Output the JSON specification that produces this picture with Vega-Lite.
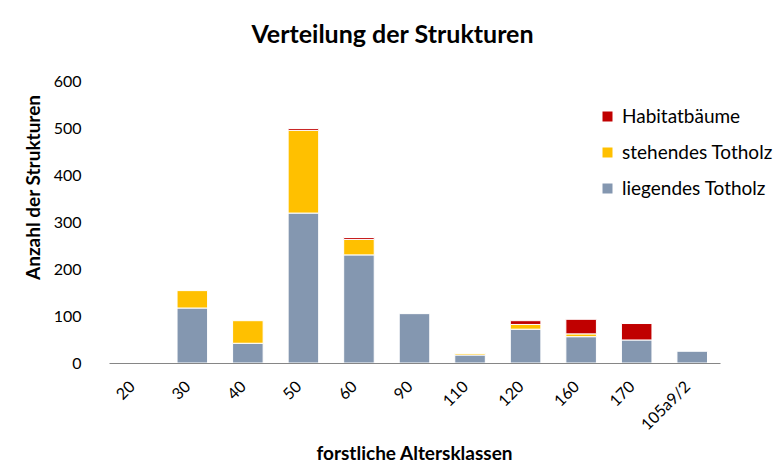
{
  "$schema": "https://vega.github.io/schema/vega-lite/v6.json",
  "autosize": "none",
  "padding": {"left": 109, "top": 81, "right": 64, "bottom": 104},
  "width": 611,
  "height": 282,
  "background": "white",
  "title": {
    "text": "Verteilung der Strukturen",
    "font": "Lato",
    "fontSize": 25,
    "fontWeight": "bold",
    "color": "#000000",
    "anchor": "middle",
    "dx": -22,
    "offset": 25
  },
  "data": {
    "values": [
      {"klasse": "20", "serie": "liegendes Totholz", "anzahl": 0},
      {"klasse": "20", "serie": "stehendes Totholz", "anzahl": 0},
      {"klasse": "20", "serie": "Habitatbäume", "anzahl": 0},
      {"klasse": "30", "serie": "liegendes Totholz", "anzahl": 117},
      {"klasse": "30", "serie": "stehendes Totholz", "anzahl": 37},
      {"klasse": "30", "serie": "Habitatbäume", "anzahl": 0},
      {"klasse": "40", "serie": "liegendes Totholz", "anzahl": 42},
      {"klasse": "40", "serie": "stehendes Totholz", "anzahl": 48},
      {"klasse": "40", "serie": "Habitatbäume", "anzahl": 0},
      {"klasse": "50", "serie": "liegendes Totholz", "anzahl": 319},
      {"klasse": "50", "serie": "stehendes Totholz", "anzahl": 176},
      {"klasse": "50", "serie": "Habitatbäume", "anzahl": 4},
      {"klasse": "60", "serie": "liegendes Totholz", "anzahl": 230},
      {"klasse": "60", "serie": "stehendes Totholz", "anzahl": 33},
      {"klasse": "60", "serie": "Habitatbäume", "anzahl": 4},
      {"klasse": "90", "serie": "liegendes Totholz", "anzahl": 105},
      {"klasse": "90", "serie": "stehendes Totholz", "anzahl": 0},
      {"klasse": "90", "serie": "Habitatbäume", "anzahl": 0},
      {"klasse": "110", "serie": "liegendes Totholz", "anzahl": 17},
      {"klasse": "110", "serie": "stehendes Totholz", "anzahl": 3},
      {"klasse": "110", "serie": "Habitatbäume", "anzahl": 0},
      {"klasse": "120", "serie": "liegendes Totholz", "anzahl": 72},
      {"klasse": "120", "serie": "stehendes Totholz", "anzahl": 10},
      {"klasse": "120", "serie": "Habitatbäume", "anzahl": 8},
      {"klasse": "160", "serie": "liegendes Totholz", "anzahl": 56},
      {"klasse": "160", "serie": "stehendes Totholz", "anzahl": 6},
      {"klasse": "160", "serie": "Habitatbäume", "anzahl": 31},
      {"klasse": "170", "serie": "liegendes Totholz", "anzahl": 49},
      {"klasse": "170", "serie": "stehendes Totholz", "anzahl": 0},
      {"klasse": "170", "serie": "Habitatbäume", "anzahl": 35},
      {"klasse": "105a9/2", "serie": "liegendes Totholz", "anzahl": 25},
      {"klasse": "105a9/2", "serie": "stehendes Totholz", "anzahl": 0},
      {"klasse": "105a9/2", "serie": "Habitatbäume", "anzahl": 0}
    ]
  },
  "transform": [
    {"filter": "datum.anzahl > 0"},
    {"calculate": "indexof(['liegendes Totholz','stehendes Totholz','Habitatbäume'], datum.serie)", "as": "stapel"}
  ],
  "mark": {"type": "bar", "stroke": "white", "strokeWidth": 1},
  "encoding": {
    "x": {
      "field": "klasse",
      "type": "nominal",
      "sort": ["20", "30", "40", "50", "60", "90", "110", "120", "160", "170", "105a9/2"],
      "scale": {
        "domain": ["20", "30", "40", "50", "60", "90", "110", "120", "160", "170", "105a9/2"],
        "paddingInner": 0.45,
        "paddingOuter": 0.225
      },
      "axis": {
        "title": "forstliche Altersklassen",
        "titleFont": "Lato",
        "titleFontSize": 19,
        "titleFontWeight": "bold",
        "titleColor": "#000000",
        "titleX": 305,
        "titleY": 90,
        "titleBaseline": "middle",
        "labelAngle": -45,
        "labelFont": "Lato",
        "labelFontSize": 16,
        "labelColor": "#000000",
        "labelPadding": 15,
        "labelOffset": -10,
        "ticks": false,
        "domainColor": "#868686",
        "domainWidth": 1.2,
        "grid": false,
        "zindex": 1
      }
    },
    "y": {
      "field": "anzahl",
      "type": "quantitative",
      "stack": "zero",
      "scale": {"domain": [0, 600], "nice": false},
      "axis": {
        "title": "Anzahl der Strukturen",
        "titleFont": "Lato",
        "titleFontSize": 19,
        "titleFontWeight": "bold",
        "titleColor": "#000000",
        "titleX": -76,
        "titleY": 106,
        "titleBaseline": "middle",
        "values": [0, 100, 200, 300, 400, 500, 600],
        "labelFont": "Lato",
        "labelFontSize": 16,
        "labelColor": "#000000",
        "labelPadding": 28,
        "ticks": false,
        "domain": false,
        "grid": false
      }
    },
    "color": {
      "field": "serie",
      "type": "nominal",
      "scale": {
        "domain": ["Habitatbäume", "stehendes Totholz", "liegendes Totholz"],
        "range": ["#C00000", "#FFC000", "#8497B0"]
      },
      "legend": {
        "title": null,
        "orient": "none",
        "legendX": 489,
        "legendY": 26,
        "symbolType": "square",
        "symbolSize": 100,
        "symbolStrokeWidth": 0,
        "labelFont": "Lato",
        "labelFontSize": 19,
        "labelColor": "#000000",
        "rowPadding": 16,
        "labelOffset": 5
      }
    },
    "order": {"field": "stapel", "type": "quantitative", "sort": "ascending"}
  },
  "config": {"view": {"stroke": null}}
}
